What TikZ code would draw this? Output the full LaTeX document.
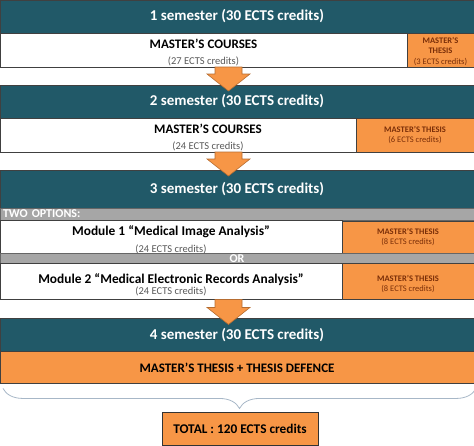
\documentclass[tikz,border=0pt]{standalone}
\usepackage{fontspec}
\setmainfont{Carlito}
\usepackage{xcolor}
\usepackage{tikz}
\usetikzlibrary{positioning, calc, decorations.pathreplacing}

\definecolor{bandteal}{HTML}{215968}
\definecolor{thesisorange}{HTML}{F79646}
\definecolor{optgray}{HTML}{A6A6A6}
\definecolor{thesisbrown}{HTML}{7A2E08}
\definecolor{bracegray}{HTML}{A7B7C7}
\definecolor{arrowedge}{HTML}{B66D31}

% block arrow from the bottom of a row into the next semester band
\newcommand{\semarrow}[2]{%
  \filldraw[bigarrow] let \p1=(#1.south), \p2=(#2.north) in
    (215pt,\y1) -- (242pt,\y1) -- (242pt,{\y2+11pt}) -- (250pt,{\y2+11pt})
    -- (228.5pt,{\y2-6pt}) -- (207pt,{\y2+11pt}) -- (215pt,{\y2+11pt}) -- cycle;}

\begin{document}
\begin{tikzpicture}[x=1pt,y=-1pt, outer sep=0pt,
    band/.style={fill=bandteal, draw=black!75, text=white, inner sep=0pt,
      font=\bfseries\fontsize{15}{18}\selectfont, minimum width=474pt},
    course/.style={fill=white, draw=black!75, inner sep=0pt, align=center},
    thesis/.style={fill=thesisorange, draw=black!75, inner sep=0pt, align=center,
      text=thesisbrown, font=\bfseries\fontsize{8.5}{10}\selectfont},
    option/.style={fill=optgray, draw=black!60, text=white, inner sep=0pt,
      font=\bfseries\fontsize{12}{12}\selectfont, minimum width=474pt},
    bigarrow/.style={fill=thesisorange, draw=arrowedge, line width=0.6pt}]
  \useasboundingbox (0,0) rectangle (474,445);

  % semester 1
  \node[band, minimum height=33pt, anchor=north west] (b1) at (0,0) {1 semester (30 ECTS credits)};
  \node[course, minimum width=407pt, minimum height=34pt, below right=0pt and 0pt of b1.south west] (c1)
    {{\bfseries\fontsize{13}{14}\selectfont\rule{0pt}{14pt}MASTER'S COURSES}\\[4pt]
     {\fontsize{10.5}{12}\selectfont\color{black!65}(27 ECTS credits)}};
  \node[thesis, minimum width=67pt, minimum height=34pt, right=0pt of c1, font=\bfseries\fontsize{8.5}{10.5}\selectfont] (t1)
    {\rule{0pt}{9pt}MASTER'S\\THESIS\\\mdseries (3 ECTS credits)};

  % semester 2
  \node[band, minimum height=33pt, below right=18pt and 0pt of c1.south west] (b2) {2 semester (30 ECTS credits)};
  \node[course, minimum width=356pt, minimum height=34pt, below right=0pt and 0pt of b2.south west] (c2) {};
  \node[align=center] at ([xshift=30pt]c2.center)
    {{\bfseries\fontsize{13}{14}\selectfont\rule{0pt}{14pt}MASTER'S COURSES}\\[4pt]
     {\fontsize{10.5}{12}\selectfont\color{black!65}(24 ECTS credits)}};
  \node[thesis, minimum width=118pt, minimum height=34pt, right=0pt of c2] (t2)
    {MASTER'S THESIS\\\mdseries (6 ECTS credits)};

  % semester 3
  \node[band, minimum height=38pt, below right=18pt and 0pt of c2.south west] (b3) {3 semester (30 ECTS credits)};
  \node[option, minimum height=12pt, text width=468pt, align=left, below right=0pt and 0pt of b3.south west] (g1) {TWO OPTIONS:};
  \node[course, minimum width=342pt, minimum height=32pt, below right=0pt and 0pt of g1.south west] (c3)
    {{\bfseries\fontsize{13.4}{15}\selectfont\rule{0pt}{15pt}Module 1 ``Medical Image Analysis''}\\[5pt]
     {\fontsize{10.5}{12}\selectfont\color{black!65}(24 ECTS credits)}};
  \node[thesis, minimum width=132pt, minimum height=32pt, right=0pt of c3] (t3)
    {MASTER'S THESIS\\\mdseries (8 ECTS credits)};
  \node[option, minimum height=10pt, below right=0pt and 0pt of c3.south west] (g2) {OR};
  \node[course, minimum width=342pt, minimum height=36pt, below right=0pt and 0pt of g2.south west] (c4)
    {{\bfseries\fontsize{13.4}{15}\selectfont\rule{0pt}{17pt}Module 2 ``Medical Electronic Records Analysis''}\\[-1pt]
     {\fontsize{10.5}{12}\selectfont\color{black!65}(24 ECTS credits)}};
  \node[thesis, minimum width=132pt, minimum height=36pt, right=0pt of c4] (t4)
    {\rule{0pt}{12pt}MASTER'S THESIS\\\mdseries (8 ECTS credits)};

  % semester 4
  \node[band, minimum height=33pt, below right=19pt and 0pt of c4.south west] (b4) {4 semester (30 ECTS credits)};
  \node[thesis, minimum width=474pt, minimum height=32pt, text=black, font=\bfseries\fontsize{13}{15}\selectfont,
    below right=0pt and 0pt of b4.south west] (f) {MASTER'S THESIS + THESIS DEFENCE};

  \node[thesis, minimum width=156pt, minimum height=33pt, text=black, draw=black!80, line width=0.8pt,
    font=\bfseries\fontsize{13.3}{15}\selectfont] (tot) at (240,428.5) {TOTAL : 120 ECTS credits};

  \semarrow{c1}{b2}
  \semarrow{c2}{b3}
  \semarrow{c4}{b4}

  \draw[bracegray, line width=0.8pt, decorate, decoration={brace, mirror, amplitude=20pt}]
    ([xshift=3pt, yshift=-5pt]f.south west) -- ([xshift=2pt, yshift=-5pt]f.south east);
\end{tikzpicture}
\end{document}
